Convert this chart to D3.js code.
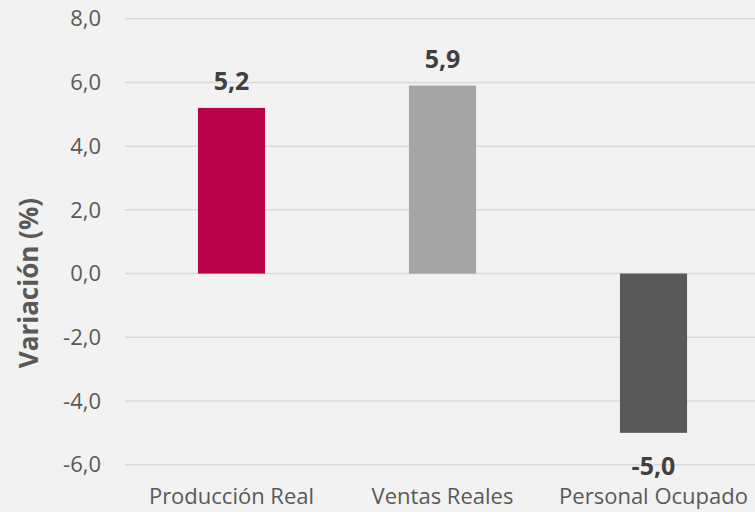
<!DOCTYPE html>
<html>
<head>
<meta charset="utf-8">
<script src="https://cdn.jsdelivr.net/npm/d3@7"></script>
<style>
  html, body { margin: 0; padding: 0; background: #f2f2f2; }
  svg { display: block; font-family: 'Open Sans', 'Noto Sans', sans-serif; }
</style>
</head>
<body>
<div id="chart"></div>
<script>
const categories = ['Producción Real', 'Ventas Reales', 'Personal Ocupado']
const values = [5.2, 5.9, -5.0]
const barColors = ['#b9004a', '#a5a5a5', '#595959']
const yTicks = [-6, -4, -2, 0, 2, 4, 6, 8]

const canvasWidth = 755
const canvasHeight = 512
const fmt = v => d3.format('.1f')(v).replace('.', ',').replace('−', '-')

const svg = d3
  .select('#chart')
  .append('svg')
  .attr('width', canvasWidth)
  .attr('height', canvasHeight)

svg
  .append('rect')
  .attr('width', canvasWidth)
  .attr('height', canvasHeight)
  .attr('fill', '#f2f2f2')

const yScale = d3.scaleLinear().domain([-6, 8]).range([464.7, 18.7])

const xScale = d3
  .scaleBand()
  .domain(categories)
  .range([126, 759])
  .paddingInner(0.682)
  .paddingOuter(0.341)

// gridlines
svg
  .append('g')
  .selectAll('line')
  .data(yTicks)
  .enter()
  .append('line')
  .attr('x1', 125)
  .attr('x2', canvasWidth)
  .attr('y1', d => yScale(d))
  .attr('y2', d => yScale(d))
  .attr('stroke', '#d9d9d9')
  .attr('stroke-width', 1.5)

// y tick labels
svg
  .append('g')
  .selectAll('text')
  .data(yTicks)
  .enter()
  .append('text')
  .attr('x', 101)
  .attr('y', d => yScale(d))
  .attr('dy', '0.35em')
  .attr('text-anchor', 'end')
  .attr('font-size', 22)
  .attr('fill', '#595959')
  .text(fmt)

// bars
svg
  .append('g')
  .selectAll('rect')
  .data(values)
  .enter()
  .append('rect')
  .attr('x', (d, i) => xScale(categories[i]))
  .attr('width', xScale.bandwidth())
  .attr('y', d => yScale(Math.max(0, d)))
  .attr('height', d => Math.abs(yScale(d) - yScale(0)))
  .attr('fill', (d, i) => barColors[i])

// value labels
svg
  .append('g')
  .selectAll('text')
  .data(values)
  .enter()
  .append('text')
  .attr('x', (d, i) => xScale(categories[i]) + xScale.bandwidth() / 2)
  .attr('y', d => (d >= 0 ? yScale(d) - 18 : yScale(d) + 42))
  .attr('text-anchor', 'middle')
  .attr('font-size', 25)
  .attr('font-weight', 'bold')
  .attr('fill', '#404040')
  .text(fmt)

// category labels
svg
  .append('g')
  .selectAll('text')
  .data(categories)
  .enter()
  .append('text')
  .attr('x', d => xScale(d) + xScale.bandwidth() / 2)
  .attr('y', 504)
  .attr('text-anchor', 'middle')
  .attr('font-size', 22)
  .attr('fill', '#595959')
  .text(d => d)

// y axis title
svg
  .append('text')
  .attr('transform', 'translate(38, 283) rotate(-90)')
  .attr('text-anchor', 'middle')
  .attr('font-size', 26)
  .attr('font-weight', 'bold')
  .attr('fill', '#595959')
  .text('Variación (%)')
</script>
</body>
</html>
